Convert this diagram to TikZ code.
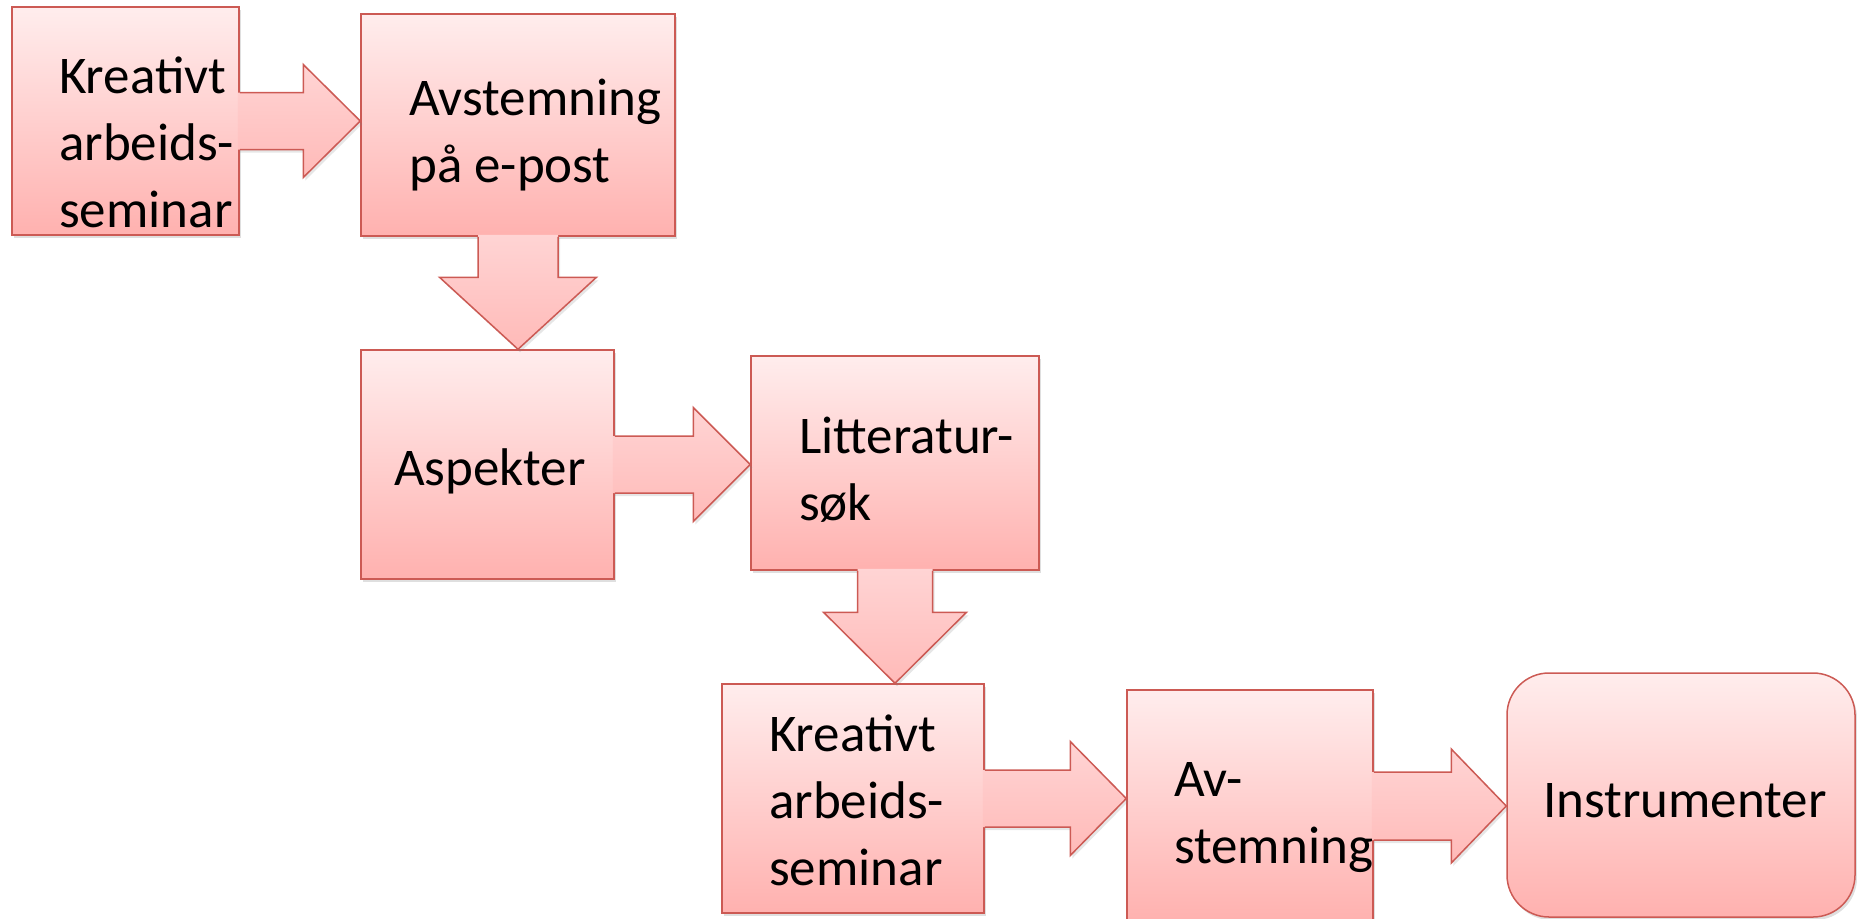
\documentclass[tikz,border=0pt]{standalone}
\usepackage{fontspec}
\setmainfont{Carlito}
\usetikzlibrary{calc,shadows}

\definecolor{boxtop}{RGB}{255,237,237}
\definecolor{boxbot}{RGB}{255,177,175}
\definecolor{boxline}{RGB}{204,90,84}
\definecolor{arrtop}{RGB}{255,212,212}
\definecolor{arrbot}{RGB}{255,186,184}

\tikzset{
    stepbox/.style={rectangle, inner sep=0pt, top color=boxtop, bottom color=boxbot,
        draw=boxline, line width=1.5pt,
        drop shadow={shadow xshift=2pt, shadow yshift=-3pt, opacity=0.25}},
    arrshade/.style={top color=arrtop, bottom color=arrbot,
        drop shadow={shadow xshift=2pt, shadow yshift=-3pt, opacity=0.2}},
    arrline/.style={draw=boxline, line width=1.5pt, line join=miter},
    boxtext/.style={inner sep=0pt, anchor=base west, align=left,
        font=\fontsize{53}{67}\selectfont}
}

% block arrow to the right: from, to, half shaft, half head, head length
\newcommand{\harrow}[5]{%
    \shade[arrshade] let \p1=(#1.east), \p2=(#2.west) in
        (\x1-2pt,\y1+#3) -- (\x2-#5,\y1+#3) -- (\x2-#5,\y1+#4) -- (\x2,\y1)
        -- (\x2-#5,\y1-#4) -- (\x2-#5,\y1-#3) -- (\x1-2pt,\y1-#3) -- cycle;
    \draw[arrline] let \p1=(#1.east), \p2=(#2.west) in
        (\x1,\y1+#3) -- (\x2-#5,\y1+#3) -- (\x2-#5,\y1+#4) -- (\x2,\y1)
        -- (\x2-#5,\y1-#4) -- (\x2-#5,\y1-#3) -- (\x1,\y1-#3);}
% block arrow downwards
\newcommand{\varrow}[5]{%
    \shade[arrshade] let \p1=(#1.south), \p2=(#2.north) in
        (\x1-#3,\y1+2pt) -- (\x1-#3,\y2+#5) -- (\x1-#4,\y2+#5) -- (\x1,\y2)
        -- (\x1+#4,\y2+#5) -- (\x1+#3,\y2+#5) -- (\x1+#3,\y1+2pt) -- cycle;
    \draw[arrline] let \p1=(#1.south), \p2=(#2.north) in
        (\x1-#3,\y1) -- (\x1-#3,\y2+#5) -- (\x1-#4,\y2+#5) -- (\x1,\y2)
        -- (\x1+#4,\y2+#5) -- (\x1+#3,\y2+#5) -- (\x1+#3,\y1);}

\begin{document}
\begin{tikzpicture}[x=1pt,y=-1pt]
    \useasboundingbox (0,0) rectangle (1857,918);

    % boxes
    \node[stepbox, minimum width=227, minimum height=228] (seminarA) at (125.5,121) {};
    \node[stepbox, minimum width=314, minimum height=222] (epost) at (518,125) {};
    \node[stepbox, minimum width=253, minimum height=229] (aspekter) at (487.5,464.5) {};
    \node[stepbox, minimum width=288, minimum height=214] (litteratur) at (895,463) {};
    \node[stepbox, minimum width=262, minimum height=229] (seminarB) at (853,798.5) {};
    \node[stepbox, minimum width=246, minimum height=232] (avstemning) at (1250,806) {};
    \node[stepbox, rounded corners=42pt, minimum width=348, minimum height=244] (instrumenter) at (1681,795) {};

    % arrows
    \harrow{seminarA}{epost}{28.5pt}{56.5pt}{57pt}
    \varrow{epost}{aspekter}{40pt}{78.5pt}{72pt}
    \harrow{aspekter}{litteratur}{28.5pt}{57pt}{57pt}
    \varrow{litteratur}{seminarB}{37.5pt}{71.5pt}{71pt}
    \harrow{seminarB}{avstemning}{28.5pt}{57pt}{56pt}
    \harrow{avstemning}{instrumenter}{34pt}{57pt}{55pt}

    % texts (anchored at the baseline of the last line)
    \node[boxtext] (seminarAtext) at (59,227) {Kreativt\\arbeids-\\seminar};
    \node[boxtext] (eposttext) at (409,182) {Avstemning\\på e-post};
    \node[boxtext] (aspektertext) at (394,485) {Aspekter};
    \node[boxtext] (litteraturtext) at (799,520) {Litteratur-\\søk};
    \node[boxtext] (seminarBtext) at (769,885) {Kreativt\\arbeids-\\seminar};
    \node[boxtext] (avstemningtext) at (1174,863) {Av-\\stemning};
    \node[boxtext] (instrumentertext) at (1543,817) {Instrumenter};
\end{tikzpicture}
\end{document}
